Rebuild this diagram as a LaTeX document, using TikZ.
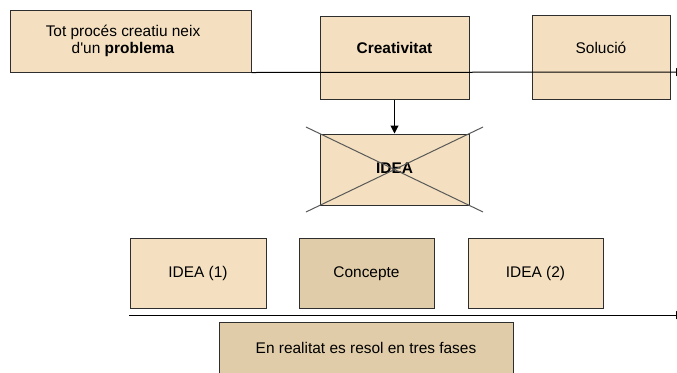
\documentclass[tikz,border=0pt]{standalone}
\usepackage{fontspec}
\setmainfont{Liberation Sans}
\usetikzlibrary{arrows.meta}
\definecolor{boxfill}{HTML}{F4E0C0}
\definecolor{boxdark}{HTML}{E0CCA8}
\definecolor{boxline}{HTML}{2E2E2E}
\begin{document}
\begin{tikzpicture}[x=1bp,y=-1bp,line width=1bp,
  >={Triangle[width=8bp,length=8bp]},
  font=\fontsize{15.5}{16.5}\selectfont,
  box/.style={draw=boxline,fill=boxfill,inner sep=0pt,align=center},
  darkbox/.style={box,fill=boxdark},
  flat/.style={text height=11bp,text depth=3bp},
  upper/.style={text height=11bp,text depth=19bp}]
\useasboundingbox (0,0) rectangle (677,372);
\node[box,minimum width=240bp,minimum height=62bp] (prob) at (131,41) {\hspace*{-16bp}Tot procés creatiu neix\\\hspace*{-16bp}d\textquotesingle un \textbf{problema}};
\node[box,upper,minimum width=149bp,minimum height=83bp] (crea) at (394.5,57.5) {\textbf{Creativitat}};
\node[box,upper,minimum width=138bp,minimum height=84bp] (sol) at (601,57) {Solució};
\node[box,flat,minimum width=149bp,minimum height=71bp] (idea) at (394.5,169.5) {\textbf{IDEA}};
\draw[boxline!80,shorten <=-15bp,shorten >=-15bp] (idea.north west) -- (idea.south east);
\draw[boxline!80,shorten <=-15bp,shorten >=-15bp] (idea.north east) -- (idea.south west);
\node[box,flat,minimum width=136bp,minimum height=70bp] (ideaA) at (198,273) {IDEA (1)};
\node[darkbox,flat,minimum width=135bp,minimum height=70bp] (conc) at (366.5,273) {Concepte};
\node[box,flat,minimum width=135bp,minimum height=70bp] (ideaB) at (535.5,273) {IDEA (2)};
\node[darkbox,upper,minimum width=294bp,minimum height=70bp] (fases) at (366,357) {En realitat es resol en tres fases};
\coordinate (topend) at (684,72);
\coordinate (lowstart) at (129,315);
\coordinate (lowend) at (684,315);
\draw[->] (prob.south east) to (topend);
\draw[->] (crea) to (idea);
\draw[->] (lowstart) to (lowend);
\end{tikzpicture}
\end{document}
